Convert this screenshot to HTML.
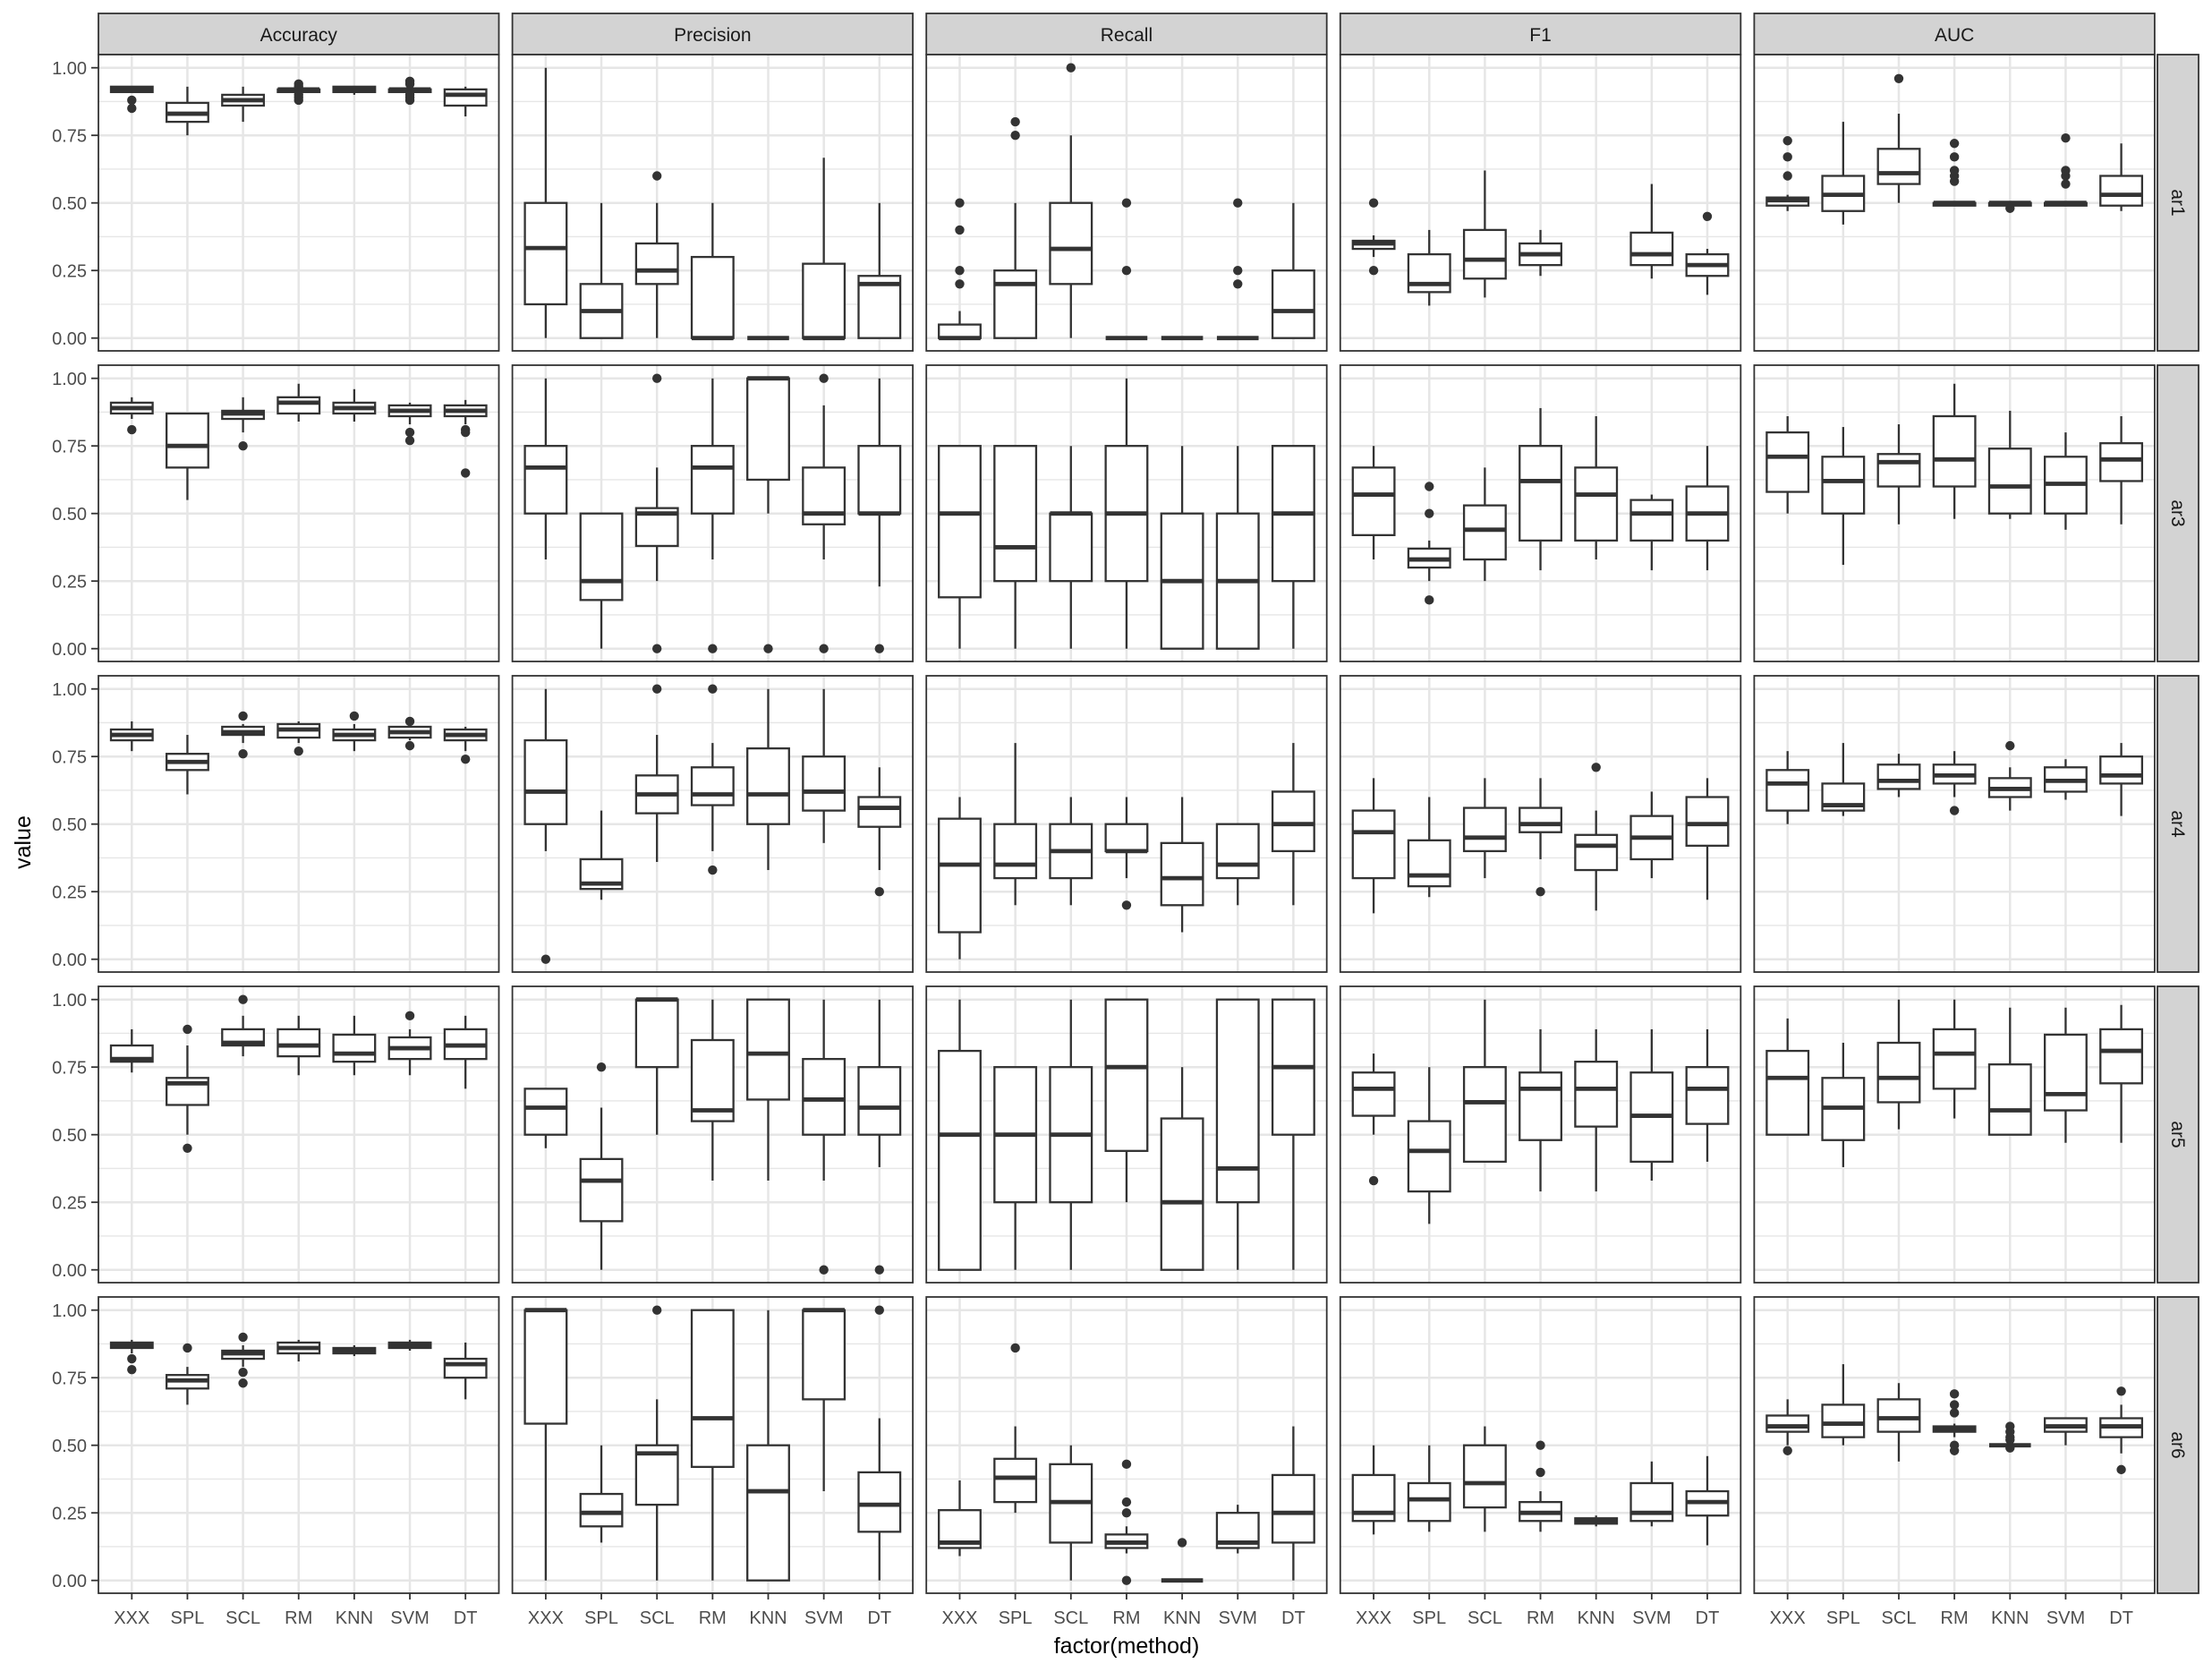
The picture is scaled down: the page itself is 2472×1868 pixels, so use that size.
<!DOCTYPE html>
<html><head><meta charset="utf-8"><style>
html,body{margin:0;padding:0;background:#fff}
svg{display:block}
text{font-family:"Liberation Sans",Arial,sans-serif}
</style></head><body>
<svg id="s" xmlns="http://www.w3.org/2000/svg" width="2472" height="1868" viewBox="0 0 2472 1868">
<rect width="2472" height="1868" fill="#fff"/>
<g id="g"></g>
<g font-size="21" fill="#1a1a1a" text-anchor="middle">
<text x="333.75" y="46">Accuracy</text>
<text x="796.35" y="46">Precision</text>
<text x="1258.95" y="46">Recall</text>
<text x="1721.55" y="46">F1</text>
<text x="2184.15" y="46">AUC</text>
<text transform="translate(2427,226.5) rotate(90)">ar1</text>
<text transform="translate(2427,573.5) rotate(90)">ar3</text>
<text transform="translate(2427,920.5) rotate(90)">ar4</text>
<text transform="translate(2427,1267.5) rotate(90)">ar5</text>
<text transform="translate(2427,1614.5) rotate(90)">ar6</text>
</g>
<g font-size="20" fill="#4d4d4d" text-anchor="end">
<text x="97" y="83">1.00</text><text x="97" y="158.5">0.75</text><text x="97" y="234">0.50</text><text x="97" y="309.5">0.25</text><text x="97" y="385">0.00</text>
<text x="97" y="430">1.00</text><text x="97" y="505.5">0.75</text><text x="97" y="581">0.50</text><text x="97" y="656.5">0.25</text><text x="97" y="732">0.00</text>
<text x="97" y="777">1.00</text><text x="97" y="852.5">0.75</text><text x="97" y="928">0.50</text><text x="97" y="1003.5">0.25</text><text x="97" y="1079">0.00</text>
<text x="97" y="1124">1.00</text><text x="97" y="1199.5">0.75</text><text x="97" y="1275">0.50</text><text x="97" y="1350.5">0.25</text><text x="97" y="1426">0.00</text>
<text x="97" y="1471">1.00</text><text x="97" y="1546.5">0.75</text><text x="97" y="1622">0.50</text><text x="97" y="1697.5">0.25</text><text x="97" y="1773">0.00</text>
</g>
<g font-size="20" fill="#4d4d4d" text-anchor="middle" id="xl">
<text x="147.3" y="1814">XXX</text><text x="209.4" y="1814">SPL</text><text x="271.6" y="1814">SCL</text><text x="333.7" y="1814">RM</text><text x="395.9" y="1814">KNN</text><text x="458.1" y="1814">SVM</text><text x="520.2" y="1814">DT</text>
<text x="609.9" y="1814">XXX</text><text x="672" y="1814">SPL</text><text x="734.2" y="1814">SCL</text><text x="796.3" y="1814">RM</text><text x="858.5" y="1814">KNN</text><text x="920.7" y="1814">SVM</text><text x="982.8" y="1814">DT</text>
<text x="1072.5" y="1814">XXX</text><text x="1134.6" y="1814">SPL</text><text x="1196.8" y="1814">SCL</text><text x="1258.9" y="1814">RM</text><text x="1321.1" y="1814">KNN</text><text x="1383.3" y="1814">SVM</text><text x="1445.4" y="1814">DT</text>
<text x="1535.1" y="1814">XXX</text><text x="1597.2" y="1814">SPL</text><text x="1659.4" y="1814">SCL</text><text x="1721.5" y="1814">RM</text><text x="1783.7" y="1814">KNN</text><text x="1845.9" y="1814">SVM</text><text x="1908" y="1814">DT</text>
<text x="1997.7" y="1814">XXX</text><text x="2059.8" y="1814">SPL</text><text x="2122" y="1814">SCL</text><text x="2184.1" y="1814">RM</text><text x="2246.3" y="1814">KNN</text><text x="2308.5" y="1814">SVM</text><text x="2370.6" y="1814">DT</text>
</g>
<g font-size="25" fill="#000" text-anchor="middle">
<text x="1259" y="1847">factor(method)</text>
<text transform="translate(34,941) rotate(-90)">value</text>
</g>
</svg>
<script>
var D=[
[ // ar1
[[.91,.91,.92,.93,.93,[.88,.85]],[.75,.80,.83,.87,.93,[]],[.80,.86,.88,.90,.93,[]],[.91,.91,.92,.92,.92,[.88,.89,.90,.93,.94]],[.90,.91,.92,.93,.93,[]],[.91,.91,.92,.92,.92,[.88,.89,.90,.94,.95]],[.82,.86,.90,.92,.93,[]]],
[[0,.125,.333,.5,1,[]],[0,0,.1,.2,.5,[]],[0,.2,.25,.35,.5,[.6]],[0,0,0,.3,.5,[]],[0,0,0,0,0,[]],[0,0,0,.275,.667,[]],[0,0,.2,.23,.5,[]]],
[[0,0,0,.05,.1,[.2,.25,.4,.5]],[0,0,.2,.25,.5,[.75,.8]],[0,.2,.33,.5,.75,[1]],[0,0,0,0,0,[.25,.5]],[0,0,0,0,0,[]],[0,0,0,0,0,[.2,.25,.5]],[0,0,.1,.25,.5,[]]],
[[.3,.33,.35,.36,.38,[.25,.5]],[.12,.17,.2,.31,.4,[]],[.15,.22,.29,.4,.62,[]],[.23,.27,.31,.35,.4,[]],null,[.22,.27,.31,.39,.57,[]],[.16,.23,.27,.31,.33,[.45]]],
[[.47,.49,.51,.52,.53,[.6,.67,.73]],[.42,.47,.53,.6,.8,[]],[.5,.57,.61,.7,.83,[.96]],[.49,.49,.5,.5,.5,[.58,.6,.62,.67,.72]],[.49,.49,.5,.5,.5,[.48]],[.49,.49,.5,.5,.5,[.57,.6,.62,.74]],[.47,.49,.53,.6,.72,[]]]
],[ // ar3
[[.85,.87,.89,.91,.93,[.81]],[.55,.67,.75,.87,.87,[]],[.8,.85,.87,.88,.93,[.75]],[.84,.87,.91,.93,.98,[]],[.84,.87,.89,.91,.96,[]],[.83,.86,.88,.9,.91,[.8,.77]],[.83,.86,.88,.9,.92,[.81,.8,.65]]],
[[.33,.5,.67,.75,1,[]],[0,.18,.25,.5,.5,[]],[.25,.38,.5,.52,.67,[1,0]],[.33,.5,.67,.75,1,[0]],[.5,.625,1,1,1,[0]],[.33,.46,.5,.67,.9,[1,0]],[.23,.5,.5,.75,1,[0]]],
[[0,.19,.5,.75,.75,[]],[0,.25,.375,.75,.75,[]],[0,.25,.5,.5,.75,[]],[0,.25,.5,.75,1,[]],[0,0,.25,.5,.75,[]],[0,0,.25,.5,.75,[]],[0,.25,.5,.75,.75,[]]],
[[.33,.42,.57,.67,.75,[]],[.25,.3,.33,.37,.4,[.18,.5,.6]],[.25,.33,.44,.53,.67,[]],[.29,.4,.62,.75,.89,[]],[.33,.4,.57,.67,.86,[]],[.29,.4,.5,.55,.57,[]],[.29,.4,.5,.6,.75,[]]],
[[.5,.58,.71,.8,.86,[]],[.31,.5,.62,.71,.82,[]],[.46,.6,.69,.72,.83,[]],[.48,.6,.7,.86,.98,[]],[.48,.5,.6,.74,.88,[]],[.44,.5,.61,.71,.8,[]],[.46,.62,.7,.76,.86,[]]]
],[ // ar4
[[.77,.81,.83,.85,.88,[]],[.61,.7,.73,.76,.83,[]],[.8,.83,.84,.86,.87,[.9,.76]],[.8,.82,.85,.87,.88,[.77]],[.77,.81,.83,.85,.87,[.9]],[.81,.82,.84,.86,.86,[.88,.79]],[.77,.81,.83,.85,.86,[.74]]],
[[.4,.5,.62,.81,1,[0]],[.22,.26,.28,.37,.55,[]],[.36,.54,.61,.68,.83,[1]],[.4,.57,.61,.71,.8,[1,.33]],[.33,.5,.61,.78,1,[]],[.43,.55,.62,.75,1,[]],[.33,.49,.56,.6,.71,[.25]]],
[[0,.1,.35,.52,.6,[]],[.2,.3,.35,.5,.8,[]],[.2,.3,.4,.5,.6,[]],[.3,.4,.4,.5,.6,[.2]],[.1,.2,.3,.43,.6,[]],[.2,.3,.35,.5,.5,[]],[.2,.4,.5,.62,.8,[]]],
[[.17,.3,.47,.55,.67,[]],[.23,.27,.31,.44,.6,[]],[.3,.4,.45,.56,.67,[]],[.37,.47,.5,.56,.67,[.25]],[.18,.33,.42,.46,.55,[.71]],[.3,.37,.45,.53,.62,[]],[.22,.42,.5,.6,.67,[]]],
[[.5,.55,.65,.7,.77,[]],[.53,.55,.57,.65,.8,[]],[.6,.63,.66,.72,.76,[]],[.6,.65,.68,.72,.77,[.55]],[.55,.6,.63,.67,.71,[.79]],[.59,.62,.66,.71,.74,[]],[.53,.65,.68,.75,.8,[]]]
],[ // ar5
[[.73,.77,.78,.83,.89,[]],[.5,.61,.69,.71,.83,[.89,.45]],[.79,.83,.84,.89,.94,[1]],[.72,.79,.83,.89,.94,[]],[.72,.77,.8,.87,.94,[]],[.72,.78,.82,.86,.89,[.94]],[.67,.78,.83,.89,.94,[]]],
[[.45,.5,.6,.67,.67,[]],[0,.18,.33,.41,.6,[.75]],[.5,.75,1,1,1,[]],[.33,.55,.59,.85,1,[]],[.33,.63,.8,1,1,[]],[.33,.5,.63,.78,1,[0]],[.38,.5,.6,.75,1,[0]]],
[[0,0,.5,.81,1,[]],[0,.25,.5,.75,.75,[]],[0,.25,.5,.75,1,[]],[.25,.44,.75,1,1,[]],[0,0,.25,.56,.75,[]],[0,.25,.375,1,1,[]],[0,.5,.75,1,1,[]]],
[[.5,.57,.67,.73,.8,[.33]],[.17,.29,.44,.55,.75,[]],[.4,.4,.62,.75,1,[]],[.29,.48,.67,.73,.89,[]],[.29,.53,.67,.77,.89,[]],[.33,.4,.57,.73,.89,[]],[.4,.54,.67,.75,.89,[]]],
[[.5,.5,.71,.81,.93,[]],[.38,.48,.6,.71,.84,[]],[.52,.62,.71,.84,1,[]],[.56,.67,.8,.89,1,[]],[.5,.5,.59,.76,.97,[]],[.47,.59,.65,.87,.97,[]],[.47,.69,.81,.89,.98,[]]]
],[ // ar6
[[.84,.86,.87,.88,.89,[.82,.78]],[.65,.71,.74,.76,.79,[.86]],[.79,.82,.84,.85,.87,[.9,.77,.73]],[.81,.84,.86,.88,.89,[]],[.83,.84,.85,.86,.87,[]],[.85,.86,.87,.88,.89,[]],[.67,.75,.8,.82,.88,[]]],
[[0,.58,1,1,1,[]],[.14,.2,.25,.32,.5,[]],[0,.28,.47,.5,.67,[1]],[0,.42,.6,1,1,[]],[0,0,.33,.5,1,[]],[.33,.67,1,1,1,[]],[0,.18,.28,.4,.6,[1]]],
[[.09,.12,.14,.26,.37,[]],[.25,.29,.38,.45,.57,[.86]],[0,.14,.29,.43,.5,[]],[.1,.12,.14,.17,.2,[.25,.29,.43,0]],[0,0,0,0,0,[.14]],[.1,.12,.14,.25,.28,[]],[0,.14,.25,.39,.57,[]]],
[[.17,.22,.25,.39,.5,[]],[.18,.22,.3,.36,.5,[]],[.18,.27,.36,.5,.57,[]],[.18,.22,.25,.29,.33,[.4,.5]],[.2,.21,.22,.23,.24,[]],[.2,.22,.25,.36,.44,[]],[.13,.24,.29,.33,.46,[]]],
[[.5,.55,.57,.61,.67,[.48]],[.5,.53,.58,.65,.8,[]],[.44,.55,.6,.67,.73,[]],[.53,.55,.56,.57,.58,[.5,.48,.62,.65,.69]],[.5,.5,.5,.5,.5,[.49,.52,.53,.55,.57]],[.5,.55,.57,.6,.6,[]],[.47,.53,.57,.6,.65,[.7,.41]]]
]];
var h='',W=447.5,SP=62.15,BW=46.6,LW=2.3;
for(var c=0;c<5;c++){var L=110+462.6*c;
 h+='<rect x="'+L+'" y="15" width="'+W+'" height="46" fill="#d3d3d3" stroke="#333" stroke-width="1.8"/>';
 for(var r=0;r<5;r++){var T=61+347*r,y0=377.7+347*r;
  h+='<rect x="'+L+'" y="'+T+'" width="'+W+'" height="331" fill="#fff"/>';
  for(var m=0;m<9;m++){var v=m*0.125,yy=y0-302*v;h+='<line x1="'+L+'" x2="'+(L+W)+'" y1="'+yy+'" y2="'+yy+'" stroke="#e6e6e6" stroke-width="'+(m%2?1.3:2.5)+'"/>';}
  for(var k=0;k<7;k++){var x=L+SP*(0.6+k);h+='<line x1="'+x+'" x2="'+x+'" y1="'+T+'" y2="'+(T+331)+'" stroke="#e6e6e6" stroke-width="2.5"/>';}
  for(k=0;k<7;k++){var d=D[r][c][k];if(!d)continue;var x=L+SP*(0.6+k),Y=function(v){return y0-302*v};
   h+='<line x1="'+x+'" x2="'+x+'" y1="'+Y(d[4])+'" y2="'+Y(d[3])+'" stroke="#333" stroke-width="'+LW+'"/>';
   h+='<line x1="'+x+'" x2="'+x+'" y1="'+Y(d[1])+'" y2="'+Y(d[0])+'" stroke="#333" stroke-width="'+LW+'"/>';
   h+='<rect x="'+(x-BW/2)+'" y="'+Y(d[3])+'" width="'+BW+'" height="'+(Y(d[1])-Y(d[3]))+'" fill="#fff" stroke="#333" stroke-width="'+LW+'"/>';
   h+='<line x1="'+(x-BW/2)+'" x2="'+(x+BW/2)+'" y1="'+Y(d[2])+'" y2="'+Y(d[2])+'" stroke="#333" stroke-width="4.8"/>';
   d[5].forEach(function(o){h+='<circle cx="'+x+'" cy="'+Y(o)+'" r="5.2" fill="#333"/>';});
  }
  h+='<rect x="'+L+'" y="'+T+'" width="'+W+'" height="331" fill="none" stroke="#333" stroke-width="1.8"/>';
  if(c==0)for(m=0;m<5;m++){var yy=y0-302*m*0.25;h+='<line x1="102" x2="110" y1="'+yy+'" y2="'+yy+'" stroke="#333" stroke-width="1.8"/>';}
  if(r==4)for(k=0;k<7;k++){var x=L+SP*(0.6+k);h+='<line x1="'+x+'" x2="'+x+'" y1="1780" y2="1787" stroke="#333" stroke-width="1.8"/>';}
  if(c==4)h+='<rect x="2411" y="'+T+'" width="46" height="331" fill="#d3d3d3" stroke="#333" stroke-width="1.8"/>';
 }}
document.getElementById('g').innerHTML=h;
</script>
</body></html>
